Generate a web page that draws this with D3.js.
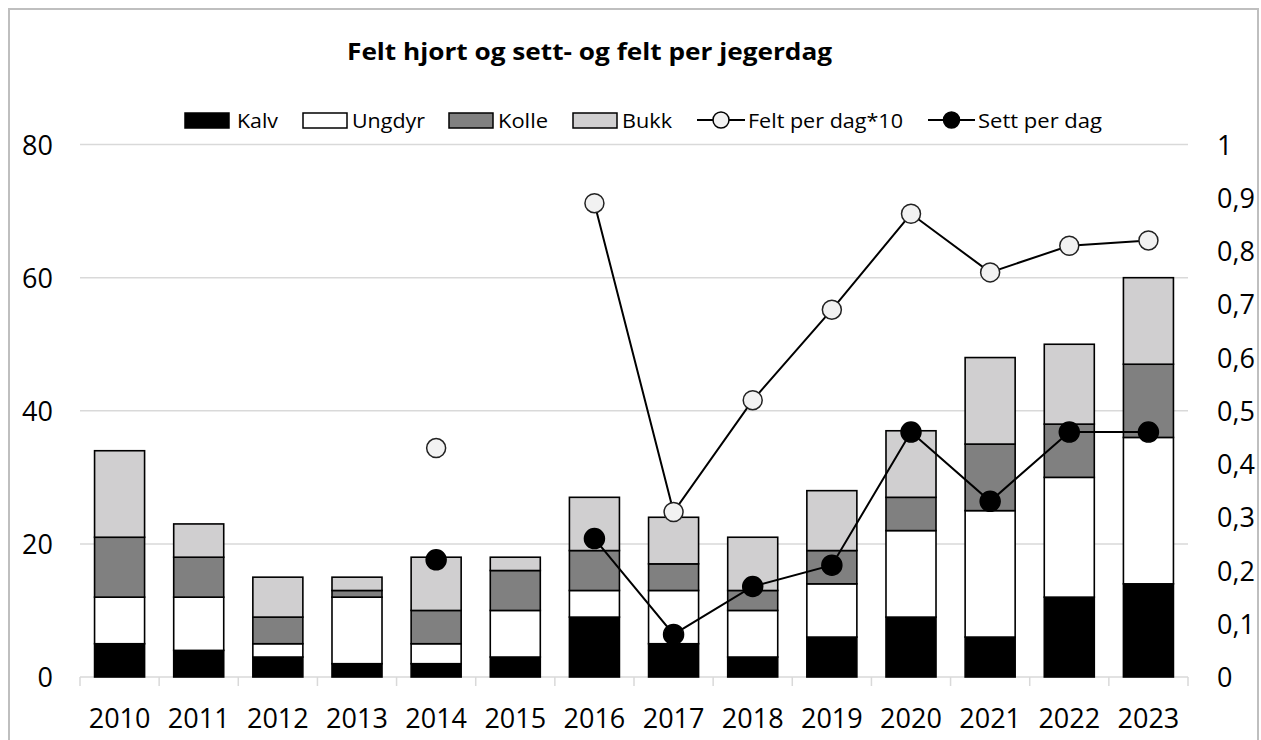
<!DOCTYPE html>
<html>
<head>
<meta charset="utf-8">
<script src="https://cdn.jsdelivr.net/npm/d3@7"></script>
<style>
html,body{margin:0;padding:0;background:#fff;}
svg{display:block;font-family:"Open Sans",sans-serif;}
</style>
</head>
<body>
<svg id="chart" width="1261" height="740"></svg>
<script>
const years = ["2010","2011","2012","2013","2014","2015","2016","2017","2018","2019","2020","2021","2022","2023"];
const kalv   = [5, 4, 3, 2, 2, 3, 9, 5, 3, 6, 9, 6, 12, 14];
const ungdyr = [7, 8, 2, 10, 3, 7, 4, 8, 7, 8, 13, 19, 18, 22];
const kolle  = [9, 6, 4, 1, 5, 6, 6, 4, 3, 5, 5, 10, 8, 11];
const bukk   = [13, 5, 6, 2, 8, 2, 8, 7, 8, 9, 10, 13, 12, 13];
const feltPerDag10 = [null, null, null, null, 0.43, null, 0.89, 0.31, 0.52, 0.69, 0.87, 0.76, 0.81, 0.82];
const settPerDag   = [null, null, null, null, 0.22, null, 0.26, 0.08, 0.17, 0.21, 0.46, 0.33, 0.46, 0.46];
const leftTicks = [0, 20, 40, 60, 80];
const rightTicks = [0, 0.1, 0.2, 0.3, 0.4, 0.5, 0.6, 0.7, 0.8, 0.9, 1];
const seriesNames = ["Kalv", "Ungdyr", "Kolle", "Bukk"];
const seriesColors = ["#000000", "#ffffff", "#808080", "#d0cfd0"];
const title = "Felt hjort og sett- og felt per jegerdag";

const svg = d3.select("#chart");
const L = 80, R = 1188, T = 144.6, B = 677;

// border
svg.append("path").attr("d", "M9,740 V9 H1258 V740")
  .attr("fill", "none").attr("stroke", "#bfbfbf").attr("stroke-width", 2);

const x = d3.scaleBand().domain(years).range([L, R]).paddingInner(0.368).paddingOuter(0.184);
const yL = d3.scaleLinear().domain([0, 80]).range([B, T]);
const yR = d3.scaleLinear().domain([0, 1]).range([B, T]);

// gridlines
svg.append("g").selectAll("line").data(leftTicks.filter(d => d > 0)).join("line")
  .attr("x1", L).attr("x2", R).attr("y1", d => yL(d)).attr("y2", d => yL(d))
  .attr("stroke", "#d9d9d9").attr("stroke-width", 1.5);

// bottom axis line and ticks
svg.append("line").attr("x1", L).attr("x2", R).attr("y1", B).attr("y2", B)
  .attr("stroke", "#d9d9d9").attr("stroke-width", 1.5);
const bounds = years.map(y => x(y) - x.step() * x.paddingInner() / 2).concat([R]);
bounds[0] = L;
svg.append("g").selectAll("line").data(bounds).join("line")
  .attr("x1", d => d).attr("x2", d => d).attr("y1", B).attr("y2", B + 9)
  .attr("stroke", "#d9d9d9").attr("stroke-width", 1.5);

// stacked bars
const table = years.map((yr, i) => ({year: yr, Kalv: kalv[i], Ungdyr: ungdyr[i], Kolle: kolle[i], Bukk: bukk[i]}));
const stacked = d3.stack().keys(seriesNames)(table);
stacked.forEach((layer, li) => {
  svg.append("g").selectAll("rect").data(layer).join("rect")
    .attr("x", d => x(d.data.year))
    .attr("width", x.bandwidth())
    .attr("y", d => yL(d[1]))
    .attr("height", d => yL(d[0]) - yL(d[1]))
    .attr("fill", seriesColors[li])
    .attr("stroke", "#000").attr("stroke-width", 1.6);
});

// lines
function drawLine(vals, fill) {
  const pts = years.map((yr, i) => ({yr, v: vals[i]}));
  const line = d3.line().defined(d => d.v != null)
    .x(d => x(d.yr) + x.bandwidth() / 2).y(d => yR(d.v));
  svg.append("path").datum(pts).attr("d", line)
    .attr("fill", "none").attr("stroke", "#000").attr("stroke-width", 2);
  svg.append("g").selectAll("circle").data(pts.filter(d => d.v != null)).join("circle")
    .attr("cx", d => x(d.yr) + x.bandwidth() / 2).attr("cy", d => yR(d.v))
    .attr("r", fill === "#000" ? 10 : 9.5)
    .attr("fill", fill).attr("stroke", fill === "#000" ? "#000" : "#222").attr("stroke-width", 1.5);
}
drawLine(feltPerDag10, "#f2f2f2");
drawLine(settPerDag, "#000");

// left axis labels
svg.append("g").selectAll("text").data(leftTicks).join("text")
  .attr("x", 53).attr("y", d => yL(d) + 10)
  .attr("text-anchor", "end").attr("font-size", 27).attr("fill", "#000")
  .text(d => d);

// right axis labels
const fmtR = d => d === 0 ? "0" : d === 1 ? "1" : d3.format(".1f")(d).replace(".", ",");
svg.append("g").selectAll("text").data(rightTicks).join("text")
  .attr("x", 1217).attr("y", d => yR(d) + 10)
  .attr("text-anchor", "start").attr("font-size", 27).attr("fill", "#000")
  .text(fmtR);

// x labels
svg.append("g").selectAll("text").data(years).join("text")
  .attr("x", d => x(d) + x.bandwidth() / 2).attr("y", 728)
  .attr("text-anchor", "middle").attr("font-size", 27).attr("fill", "#000")
  .text(d => d);

// title
svg.append("text").attr("x", 347).attr("y", 60)
  .attr("font-size", 24).attr("font-weight", "bold").attr("fill", "#000")
  .attr("textLength", 485).attr("lengthAdjust", "spacingAndGlyphs")
  .text(title);

// legend
const legRects = [185, 303, 449, 573];
const legTextX = [237, 352, 498, 622];
const legTextW = [41, 73, 50, 50];
seriesNames.forEach((n, i) => {
  svg.append("rect").attr("x", legRects[i]).attr("y", 113).attr("width", 44).attr("height", 15)
    .attr("fill", seriesColors[i]).attr("stroke", "#000").attr("stroke-width", 1.5);
  svg.append("text").attr("x", legTextX[i]).attr("y", 128).attr("font-size", 20).attr("fill", "#000")
    .attr("textLength", legTextW[i]).attr("lengthAdjust", "spacingAndGlyphs").text(n);
});
const lineLeg = [
  {name: "Felt per dag*10", x0: 697, x1: 745, tx: 748, tw: 155, fill: "#f2f2f2", r: 8},
  {name: "Sett per dag", x0: 928, x1: 975, tx: 978, tw: 124, fill: "#000", r: 8}
];
lineLeg.forEach(d => {
  svg.append("line").attr("x1", d.x0).attr("x2", d.x1).attr("y1", 120).attr("y2", 120)
    .attr("stroke", "#000").attr("stroke-width", 2);
  svg.append("circle").attr("cx", (d.x0 + d.x1) / 2).attr("cy", 120).attr("r", d.r)
    .attr("fill", d.fill).attr("stroke", "#000").attr("stroke-width", 1.5);
  svg.append("text").attr("x", d.tx).attr("y", 128).attr("font-size", 20).attr("fill", "#000")
    .attr("textLength", d.tw).attr("lengthAdjust", "spacingAndGlyphs").text(d.name);
});
</script>
</body>
</html>
